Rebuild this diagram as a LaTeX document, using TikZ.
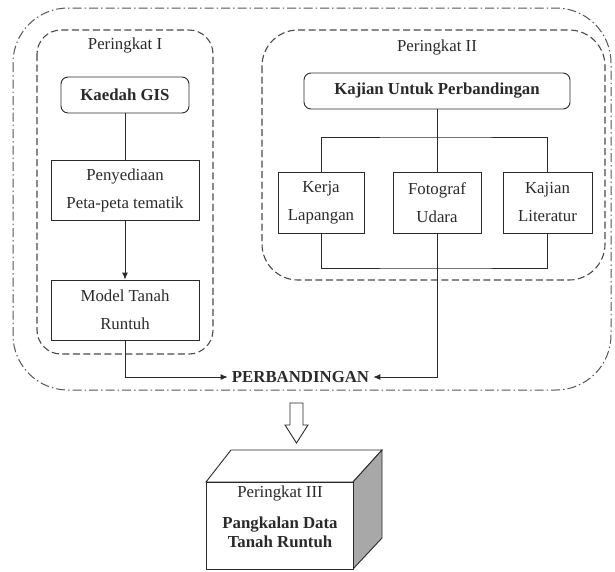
\documentclass[tikz,border=0pt]{standalone}
\usepackage{fontspec}
\setmainfont{Liberation Serif}
\usetikzlibrary{arrows.meta}
\definecolor{ink}{HTML}{2A2A2A}
\definecolor{sidegray}{HTML}{A8A8A8}
\begin{document}
\begin{tikzpicture}[x=1pt,y=-1pt,
  every node/.style={font=\fontsize{16.8}{28}\selectfont, text=ink},
  lbl/.style={inner sep=0pt},
  sqbox/.style={draw=ink, line width=0.9pt, align=center, inner sep=0pt},
  rbox/.style={draw=ink, line width=0.9pt, rounded corners=7pt, inner sep=0pt, font=\fontsize{16.8}{28}\selectfont\bfseries},
  conn/.style={draw=ink, line width=0.9pt},
  arr/.style={conn, -{Latex[length=7pt,width=6pt]}},
  grp/.style={draw=ink!85, line width=1.1pt, dash pattern=on 7pt off 3.5pt},
  outer/.style={draw=ink!80, line width=1pt, dash pattern=on 9pt off 3pt on 1.5pt off 3pt}
]
\useasboundingbox (0,0) rectangle (615,571);

% outer dash-dot group
\draw[outer, rounded corners=55pt] (13,8) rectangle (611,390);
% Peringkat I group
\draw[grp, rounded corners=24pt] (37,30) rectangle (213,354);
% Peringkat II group
\draw[grp, rounded corners=36pt] (262,30) rectangle (605,280);

% Peringkat I
\node[lbl] (p1) at (125,45) {Peringkat I};
\node[rbox, minimum width=128pt, minimum height=36pt] (gis) at (125,95) {Kaedah GIS};
\node[sqbox, minimum width=148pt, minimum height=60pt] (peny) at (125,190) {Penyediaan\\Peta-peta tematik};
\node[sqbox, minimum width=148pt, minimum height=60pt] (model) at (125,310) {Model Tanah\\Runtuh};

% Peringkat II
\node[lbl] (p2) at (437,47) {Peringkat II};
\node[rbox, minimum width=266pt, minimum height=36pt] (kup) at (437,91) {Kajian Untuk Perbandingan};
\node[sqbox, minimum width=86pt, minimum height=61pt] (kerja) at (321,202.5) {Kerja\\Lapangan};
\node[sqbox, minimum width=88pt, minimum height=61pt] (foto) at (437,202.5) {Fotograf\\Udara};
\node[sqbox, minimum width=89pt, minimum height=61pt] (lit) at (547.5,202.5) {Kajian\\Literatur};

\node[lbl, font=\fontsize{16.8}{28}\selectfont\bfseries] (perb) at (300.5,377) {PERBANDINGAN};

\coordinate (bt) at (437,137);
\coordinate (bb) at (437,268);

% connectors
\draw[conn] (gis.south) -- (peny.north);
\draw[arr] (peny.south) -- (model.north);
\draw[arr] (model.south) |- ([xshift=-4pt]perb.west);
\draw[arr] (foto.south) |- ([xshift=4pt]perb.east);
\draw[conn] (kup.south) -- (bt);
\draw[conn] (kerja.north) |- (bt) -| (lit.north);
\draw[conn] (bt) -- (foto.north);
\draw[conn] (kerja.south) |- (bb) -| (lit.south);

% hollow down arrow
\draw[ink, line width=0.9pt, fill=white, line join=miter]
  (290,403) -- (303,403) -- (303,425) -- (308,425) -- (296.5,443) -- (285,425) -- (290,425) -- cycle;

% 3D box (Peringkat III)
\draw[ink, line width=0.9pt, fill=white] (206,482) -- (231,450) -- (382,450) -- (353,482) -- cycle;
\draw[ink, line width=0.9pt, fill=sidegray] (353,482) -- (382,450) -- (382,538) -- (353,569) -- cycle;
\draw[ink, line width=0.9pt, fill=white] (206,482) rectangle (353,569);
\node[lbl] (p3) at (280,493) {Peringkat III};
\node[lbl, align=center, font=\fontsize{16.8}{19}\selectfont\bfseries] (pdt) at (280,532) {Pangkalan Data\\Tanah Runtuh};
\end{tikzpicture}
\end{document}
